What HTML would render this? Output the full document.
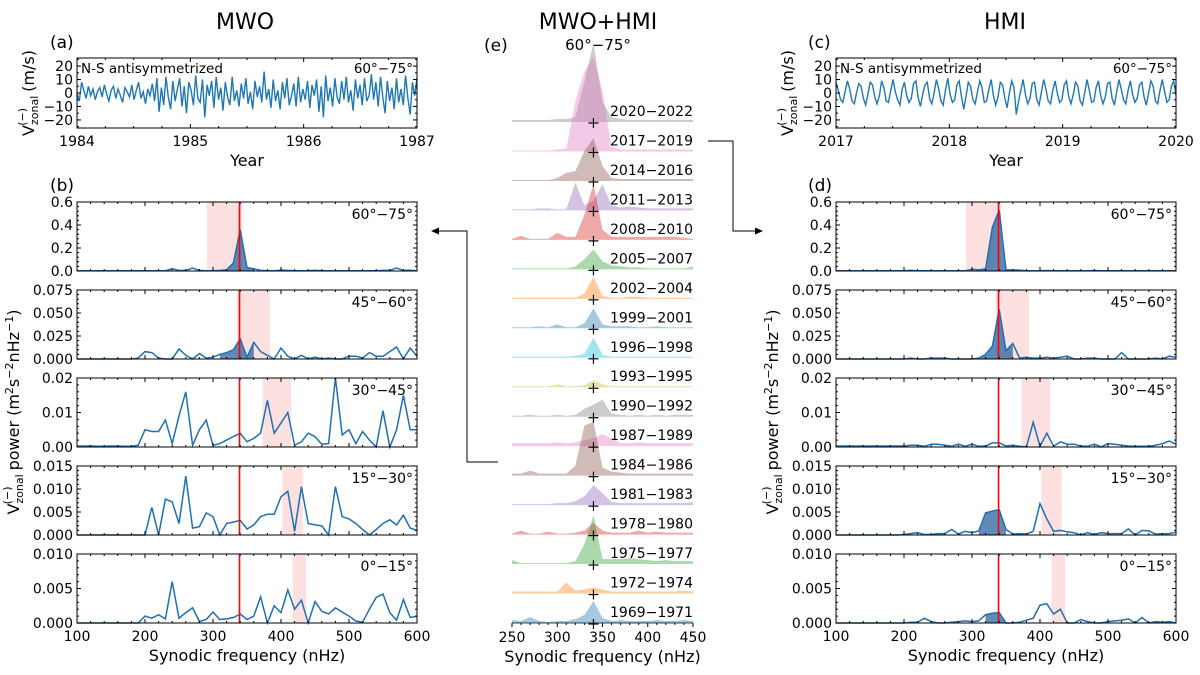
<!DOCTYPE html>
<html><head><meta charset="utf-8"><style>
body{margin:0;background:#fff}
svg{font-family:"DejaVu Sans","Liberation Sans",sans-serif}
</style></head><body>
<svg id="fig" width="1200" height="670" viewBox="0 0 1200 670" xmlns="http://www.w3.org/2000/svg">
<rect width="1200" height="670" fill="#fff"/>
<text x="245" y="29" font-size="22" text-anchor="middle">MWO</text>
<text x="598" y="29" font-size="22" text-anchor="middle">MWO+HMI</text>
<text x="598" y="50" font-size="15" text-anchor="middle">60°−75°</text>
<text x="1005" y="29" font-size="22" text-anchor="middle">HMI</text>
<text x="50" y="48" font-size="17">(a)</text>
<text x="50" y="191" font-size="17">(b)</text>
<text x="808" y="48" font-size="17">(c)</text>
<text x="808" y="191" font-size="17">(d)</text>
<text x="484" y="51" font-size="17">(e)</text>
<g id="arrows" stroke="#000" stroke-width="1" fill="none">
<polyline points="498,462 467,462 467,231 437,231"/>
<polyline points="708,141 733,141 733,231 757,231"/>
</g>
<polygon points="431,231 439,227.5 439,234.5" fill="#000"/>
<polygon points="763,231 755,227.5 755,234.5" fill="#000"/>
</svg>
<script>
const NS='http://www.w3.org/2000/svg';
const svg=document.getElementById('fig');
function mk(t,a,p){const e=document.createElementNS(NS,t);for(const k in a)e.setAttribute(k,a[k]);(p||svg).appendChild(e);return e;}

// ---- data ----
const freqs=[100,110,120,130,140,150,160,170,180,190,200,210,220,230,240,250,260,270,280,290,300,310,320,330,340,350,360,370,380,390,400,410,420,430,440,450,460,470,480,490,500,510,520,530,540,550,560,570,580,590,600];
const mwo60=[0.003,0.003,0.003,0.003,0.003,0.003,0.003,0.003,0.003,0.003,0.003,0.003,0.003,0.003,0.02,0.004,0.005,0.025,0.005,0.003,0.003,0.005,0.01,0.07,0.36,0.03,0.02,0.005,0.003,0.003,0.008,0.005,0.003,0.003,0.003,0.006,0.003,0.003,0.003,0.003,0.003,0.003,0.003,0.003,0.003,0.005,0.005,0.025,0.005,0.006,0.003];
const mwo45=[0,0,0,0,0,0,0,0,0,0.001,0.008,0.007,0.001,0,0,0.011,0.004,0,0.006,0.001,0.002,0.005,0.007,0.01,0.022,0.002,0.018,0.008,0.004,0,0.012,0.003,0,0.004,0,0.002,0,0.001,0,0,0.003,0.003,0.001,0.007,0.003,0.003,0.008,0.013,0,0.012,0.003];
const mwo30=[0.0003,0.0003,0.0003,0.0002,0.0002,0.0003,0.0003,0.0002,0.0002,0.0005,0.005,0.0045,0.0045,0.0078,0.001,0.009,0.016,0.0005,0.005,0.0078,0.0005,0.001,0.002,0.003,0.004,0.0015,0.0025,0.004,0.0135,0.004,0.007,0.01,0.0005,0.0015,0.004,0.003,0.0008,0.001,0.02,0.0035,0.005,0.001,0.0045,0.002,0,0.0105,0,0.005,0.015,0.005,0.005];
const mwo15=[0,0,0,0,0,0,0,0,0,0,0,0.006,0,0.0078,0.0072,0.0025,0.0128,0.0015,0.0018,0.0048,0.004,0,0.0025,0.0028,0.0032,0.0013,0.0022,0.004,0.0045,0.0045,0.0083,0.0095,0.0008,0.0105,0.0025,0.0022,0.002,0,0.0105,0.004,0.0035,0.0025,0.0012,0,0.0012,0.0025,0.0033,0.0022,0.0043,0.0015,0.001];
const mwo0=[0,0,0,0,0,0,0,0,0,0,0.001,0.0007,0.0012,0.0006,0.006,0.0007,0.0015,0.0022,0.0002,0.0005,0.0016,0.0005,0.0006,0.0008,0.0013,0.0005,0.001,0.0038,0,0.0025,0.0015,0.0048,0.002,0.0033,0,0.0031,0.0017,0.0013,0.0022,0.0016,0.001,0.0003,0.0001,0.002,0.0037,0.0042,0.0015,0.0004,0.0034,0.0008,0.001];
const hmi60=[0.002,0.002,0.002,0.002,0.002,0.002,0.002,0.002,0.002,0.002,0.002,0.006,0.002,0.002,0.002,0.002,0.002,0.002,0.002,0.002,0.015,0.01,0.02,0.38,0.53,0.01,0.01,0.008,0.002,0.002,0.002,0.004,0.002,0.002,0.002,0.002,0.002,0.002,0.004,0.002,0.002,0.002,0.002,0.002,0.002,0.002,0.002,0.002,0.002,0.002,0.002];
const hmi45=[0,0,0,0,0,0,0,0,0,0,0,0.001,0,0,0.001,0.001,0.001,0,0,0,0,0.001,0.005,0.014,0.054,0.009,0.017,0.001,0.002,0.001,0.001,0.002,0.001,0.002,0.003,0,0,0.001,0.001,0,0,0,0.007,0,0,0,0,0.001,0,0.003,0.002];
const hmi30=[0.0003,0.0003,0.0003,0.0003,0.0003,0.0003,0.0003,0.0003,0.0003,0.0003,0.0003,0.0005,0.0005,0.0002,0.0008,0.0008,0.0005,0.0002,0.0008,0.0002,0.0008,0.0002,0.0003,0.0012,0.0012,0.0003,0.0005,0.0002,0,0.0072,0.0002,0.004,0.0002,0.0015,0.0008,0.0008,0.0003,0.0002,0.0008,0,0.001,0.0008,0.0005,0.0003,0.0002,0.0002,0.0002,0.0005,0.001,0.0017,0.0008];
const hmi15=[0,0,0,0,0,0,0,0,0,0,0.0001,0.0003,0.0005,0.0001,0.0001,0.0003,0.0003,0.0012,0.0002,0.0008,0.0005,0.0009,0.0048,0.0052,0.0055,0.0012,0.0002,0.0003,0.0002,0.0008,0.0068,0.0035,0.0008,0.001,0.0007,0.0005,0,0.0005,0.0001,0.0005,0.0003,0.0003,0.0003,0.0013,0,0.001,0.0009,0.0002,0.0003,0.0003,0.0006];
const hmi0=[0,0,0,0,0,0,0,0,0,0,0,0.0001,0.0001,0.0007,0.0002,0,0,0.0001,0.0002,0.0003,0.0002,0.0003,0.0012,0.0014,0.0015,0,0,0.0001,0.0004,0.0007,0.0026,0.0028,0.0013,0.002,0,0,0.0005,0.0002,0,0,0.0002,0.0003,0.0004,0.0006,0,0.0008,0,0.0002,0.0001,0.0002,0];
const bandsLo=[291,335,373,402,417];
const bandsHi=[343,384,415,432,437];
const latLabels=['60°−75°','45°−60°','30°−45°','15°−30°','0°−15°'];
const yMaxes=[0.6,0.075,0.02,0.015,0.01];
const yTickVals=[[0,0.2,0.4,0.6],[0,0.025,0.05,0.075],[0,0.01,0.02],[0,0.005,0.01,0.015],[0,0.005,0.01]];
const yTickDigits=[1,3,2,3,3];
const mwoTS=[0,-6,8,2,-4,5,-2,3,-5,1,4,-3,6,-1,-6,2,5,-4,3,-2,-7,4,1,-3,6,-5,2,8,-4,1,-8,3,-2,7,-6,11,-14,4,-9,12,-3,-12,9,-6,3,11,-10,5,-15,8,2,-9,13,-4,-7,10,-18,6,-2,9,-11,12,-5,4,-13,8,-3,-9,12,-6,2,-10,7,-4,11,-8,1,-12,9,-3,5,-7,16,-5,3,-11,10,-6,2,-12,8,-4,11,-9,-2,7,-10,12,-7,3,-5,9,-11,6,-2,10,-14,5,-18,13,-6,4,-10,11,-3,-8,9,-5,12,-7,2,-13,10,-4,6,-9,11,-6,-2,14,-5,8,-10,12,-3,-15,9,-6,4,-12,11,-7,3,-9,13,-4,-16,8,-2,11];
const hmiTS=[8,2,-5,-7,1,9,3,-6,-8,0,7,5,-4,-9,-1,8,6,-3,-8,-2,9,4,-6,-7,2,10,1,-5,-9,3,8,-2,-7,-4,7,9,-3,-10,-1,6,8,-4,-8,0,10,3,-6,-9,2,11,-1,-7,-5,6,9,-3,-12,-2,8,5,-5,-8,1,9,4,-7,-6,3,10,-2,-9,-3,8,6,-4,-11,0,9,4,-16,-6,2,10,-1,-8,-4,7,8,-5,-9,1,10,3,-6,-8,2,9,0,-7,-5,6,9,-3,-8,-1,8,5,-6,-9,0,10,2,-7,-6,4,9,-2,-8,-3,7,8,-4,-9,1,10,3,-5,-8,2,9,-1,-7,-4,6,8,-3,-9,0,9,5,-6,-8,2,10,1,-7,-5,5,9,-2];
const ridgeFreqs=[250,260,270,280,290,300,310,320,330,340,350,360,370,380,390,400,410,420,430,440,450];
const ridgeLabels=['1969−1971','1972−1974','1975−1977','1978−1980','1981−1983','1984−1986','1987−1989','1990−1992','1993−1995','1996−1998','1999−2001','2002−2004','2005−2007','2008−2010','2011−2013','2014−2016','2017−2019','2020−2022'];
const ridgeColors=['#1f77b4','#ff7f0e','#2ca02c','#d62728','#9467bd','#8c564b','#e377c2','#7f7f7f','#bcbd22','#17becf','#1f77b4','#ff7f0e','#2ca02c','#d62728','#9467bd','#8c564b','#e377c2','#7f7f7f'];
const ridgeVals=[
[3,2,6,2,1,2,2,4,8,22,5,2,3,2,2,2,3,2,2,3,2],
[2,2,2,2,2,2,11,3,4,6,4,2,2,2,2,2,2,2,2,3,2],
[4,1,1,1,1,1,1,3,20,49,5,5,5,6,5,4,3,4,3,3,3],
[1,4,1,1,3,1,1,2,4,12,4,2,2,2,4,2,3,2,2,2,2],
[1,1,1,1,1,2,2,4,9,20,12,3,2,2,2,2,2,2,2,2,3],
[2,2,5,2,2,2,2,10,50,54,8,4,3,2,2,2,2,2,2,2,2],
[3,3,3,3,3,4,3,4,6,8,12,8,3,3,4,3,3,3,3,3,3],
[1,1,2,1,1,2,1,2,8,12,17,3,2,1,2,1,2,1,2,2,2],
[1,1,1,1,1,3,1,1,2,7,3,1,1,1,1,1,1,1,1,1,1],
[1,1,1,1,1,1,1,2,4,20,3,1,1,1,1,1,1,1,1,1,1],
[1,1,1,2,1,4,1,1,5,20,4,2,2,2,1,1,2,1,1,1,1],
[1,1,1,1,1,1,1,1,5,22,3,1,1,2,2,1,1,1,1,1,1],
[1,1,1,1,1,1,1,3,10,20,8,4,3,2,2,1,1,1,1,1,3],
[1,4,1,1,1,7,3,3,25,56,10,3,3,3,3,3,3,3,3,2,1],
[1,1,1,2,2,1,1,28,5,10,26,5,3,4,3,2,2,2,2,2,2],
[1,1,1,1,1,3,8,10,30,43,15,3,2,2,2,2,2,2,2,2,2],
[1,1,1,1,1,2,3,50,80,95,60,5,2,2,2,2,2,2,2,2,2],
[2,2,2,2,2,3,3,5,40,79,20,5,3,2,2,2,2,2,2,2,2]];

// ---- helpers ----
function fmt(v,d){return (v<0?'−':'')+Math.abs(v).toFixed(d);}
function frame(g,x0,x1,y0,y1){mk('rect',{x:x0,y:y0,width:x1-x0,height:y1-y0,fill:'none',stroke:'#000','stroke-width':1},g);}
const TF=14;

function timePanel(name,x0,x1,y0,y1,years,ts){
  const g=mk('g',{});
  
  
  const sx=t=>x0+(t-years[0])/(years[years.length-1]-years[0])*(x1-x0);
  const yMid=(y0+y1)/2, ys=v=>yMid-v*(y1-y0)/52;
  const n=ts.length;
  let d='';
  ts.forEach((v,i)=>{const t=years[0]+i/(n-1)*(years[years.length-1]-years[0]);d+=(i?'L':'M')+sx(t).toFixed(1)+','+ys(v).toFixed(1);});
  const p=mk('path',{d:d,fill:'none',stroke:'#1f77b4','stroke-width':1.4},g);
  
  
  frame(g,x0,x1,y0,y1);
  [-20,-10,0,10,20].forEach(v=>{const y=ys(v);
    mk('line',{x1:x0,x2:x0+4,y1:y,y2:y,stroke:'#000'},g);mk('line',{x1:x1,x2:x1-4,y1:y,y2:y,stroke:'#000'},g);
    const t=mk('text',{x:x0-4,y:y+5,'font-size':TF,'text-anchor':'end'},g);t.textContent=fmt(v,0);});
  for(let v=-25;v<=25;v+=5){const y=ys(v);mk('line',{x1:x0,x2:x0+2,y1:y,y2:y,stroke:'#000'},g);mk('line',{x1:x1,x2:x1-2,y1:y,y2:y,stroke:'#000'},g);}
  for(let k=0;k<=12;k++){const x=x0+k*(x1-x0)/12,L=(k%4==0)?4:2;mk('line',{x1:x,x2:x,y1:y1,y2:y1-L,stroke:'#000'},g);mk('line',{x1:x,x2:x,y1:y0,y2:y0+L,stroke:'#000'},g);}
  years.forEach(yr=>{const t=mk('text',{x:sx(yr),y:y1+18,'font-size':TF,'text-anchor':'middle'},g);t.textContent=yr;});
  const xl=mk('text',{x:(x0+x1)/2,y:y1+38,'font-size':16,'text-anchor':'middle'},g);xl.textContent='Year';
  
  const a=mk('text',{x:x0+4,y:y0+15,'font-size':13.5},g);a.textContent='N-S antisymmetrized';
  const b=mk('text',{x:x1-4,y:y0+15,'font-size':13.5,'text-anchor':'end'},g);b.textContent='60°−75°';
  const yl=mk('text',{transform:`translate(${x0-43},${yMid}) rotate(-90)`,'font-size':16,'text-anchor':'middle'},g);
  yl.innerHTML='V<tspan font-size="11" dy="4">zonal</tspan><tspan font-size="11" dy="-12" dx="-30">(−)</tspan><tspan dy="8" dx="11"> (m/s)</tspan>';
  
}

function specColumn(prefix,x0,x1,series,fillRanges){
  const tops=[202,290,378,466,554],h=69;
  const sx=f=>x0+(f-100)/500*(x1-x0);
  series.forEach((vals,k)=>{
    const y0=tops[k],y1=y0+h,ym=yMaxes[k];
    const sy=v=>y1-v/ym*h;
    const g=mk('g',{});
    
    
    const band=mk('rect',{x:sx(bandsLo[k]),y:y0,width:sx(bandsHi[k])-sx(bandsLo[k]),height:h,fill:'#fde0e0'},g);
    
    const fr=fillRanges[k];
    if(fr){let d='M'+sx(fr[0])+','+y1;freqs.forEach((f,i)=>{if(f>=fr[0]&&f<=fr[1])d+='L'+sx(f).toFixed(1)+','+sy(vals[i]).toFixed(1);});d+='L'+sx(fr[1])+','+y1+'Z';
      const pf=mk('path',{d:d,fill:'#2a64a0','fill-opacity':0.75},g);}
    let d='';freqs.forEach((f,i)=>{d+=(i?'L':'M')+sx(f).toFixed(1)+','+sy(vals[i]).toFixed(1);});
    const ln=mk('path',{d:d,fill:'none',stroke:'#1f6fb4','stroke-width':1.5},g);
    
    const rl=mk('line',{x1:sx(339),x2:sx(339),y1:y0,y2:y1,stroke:'#f00','stroke-width':1.6},g);
    
    frame(g,x0,x1,y0,y1);
    for(let f=100;f<=600;f+=20){const x=sx(f),L=(f%100==0)?4:2;mk('line',{x1:x,x2:x,y1:y1,y2:y1-L,stroke:'#000'},g);mk('line',{x1:x,x2:x,y1:y0,y2:y0+L,stroke:'#000'},g);}
    const tv=yTickVals[k],step=tv[1]-tv[0];
    for(let v=0;v<=ym+1e-9;v+=step/5){const y=sy(v);mk('line',{x1:x0,x2:x0+2,y1:y,y2:y,stroke:'#000'},g);mk('line',{x1:x1,x2:x1-2,y1:y,y2:y,stroke:'#000'},g);}
    tv.forEach(v=>{const y=sy(v);mk('line',{x1:x0,x2:x0+4,y1:y,y2:y,stroke:'#000'},g);mk('line',{x1:x1,x2:x1-4,y1:y,y2:y,stroke:'#000'},g);
      const t=mk('text',{x:x0-4,y:y+5,'font-size':TF,'text-anchor':'end'},g);t.textContent=fmt(v,yTickDigits[k]);});
    const lt=mk('text',{x:x1-4,y:y0+17,'font-size':TF,'text-anchor':'end'},g);lt.textContent=latLabels[k];
    if(k==4){[100,200,300,400,500,600].forEach(f=>{const t=mk('text',{x:sx(f),y:y1+18,'font-size':TF,'text-anchor':'middle'},g);t.textContent=f;});
      const xl=mk('text',{x:(x0+x1)/2,y:y1+38,'font-size':16,'text-anchor':'middle'},g);xl.textContent='Synodic frequency (nHz)';
      }
  });
  const yl=mk('text',{transform:`translate(${x0-58},412) rotate(-90)`,'font-size':16,'text-anchor':'middle'});
  yl.innerHTML='V<tspan font-size="11" dy="4">zonal</tspan><tspan font-size="11" dy="-12" dx="-30">(−)</tspan><tspan dy="8" dx="11"> power (m</tspan><tspan font-size="11" dy="-6">2</tspan><tspan dy="6">s</tspan><tspan font-size="11" dy="-6">−2</tspan><tspan dy="6">nHz</tspan><tspan font-size="11" dy="-6">−1</tspan><tspan dy="6">)</tspan>';
  
}

timePanel('mwo-timeseries',77,417,58,128,[1984,1985,1986,1987],mwoTS);
timePanel('hmi-timeseries',836,1176,58,128,[2017,2018,2019,2020],hmiTS);
specColumn('mwo',77,417,[mwo60,mwo45,mwo30,mwo15,mwo0],[[320,360],[310,360],null,null,null]);
specColumn('hmi',836,1176,[hmi60,hmi45,hmi30,hmi15,hmi0],[[310,350],[300,360],null,[310,350],[320,350]]);

// ---- ridge plot ----
(function(){
  const x0=512,x1=693,sx=f=>x0+(f-250)/200*(x1-x0);
  const base0=623,gap=29.47;
  const g=mk('g',{});
  
  
  for(let i=ridgeVals.length-1;i>=0;i--){
    const b=base0-i*gap;
    let d='M'+sx(250)+','+b;
    ridgeVals[i].forEach((v,j)=>{d+='L'+sx(ridgeFreqs[j]).toFixed(1)+','+(b-v).toFixed(1);});
    d+='L'+sx(450)+','+b+'Z';
    const p=mk('path',{d:d,fill:ridgeColors[i],'fill-opacity':0.4},g);
    
    
  }
  for(let i=0;i<ridgeVals.length;i++){
    const b=base0-i*gap;
    const t=mk('text',{x:693,y:b-6,'font-size':TF,'text-anchor':'end'},g);t.textContent=ridgeLabels[i];
    
    mk('line',{x1:sx(340)-5,x2:sx(340)+5,y1:b+1,y2:b+1,stroke:'#000','stroke-width':1.2},g);
    mk('line',{x1:sx(340),x2:sx(340),y1:b-4,y2:b+6,stroke:'#000','stroke-width':1.2},g);
  }
  mk('line',{x1:x0,x2:x1,y1:base0,y2:base0,stroke:'#000','stroke-width':0.8},g);
  for(let f=250;f<=450;f+=10){const L=(f%50==0)?4:2;mk('line',{x1:sx(f),x2:sx(f),y1:base0,y2:base0+L,stroke:'#000'},g);}
  [250,300,350,400,450].forEach(f=>{const t=mk('text',{x:sx(f),y:base0+19,'font-size':TF,'text-anchor':'middle'},g);t.textContent=f;});
  const xl=mk('text',{x:(x0+x1)/2,y:base0+39,'font-size':16,'text-anchor':'middle'},g);xl.textContent='Synodic frequency (nHz)';
  
})();
</script>
</body></html>
